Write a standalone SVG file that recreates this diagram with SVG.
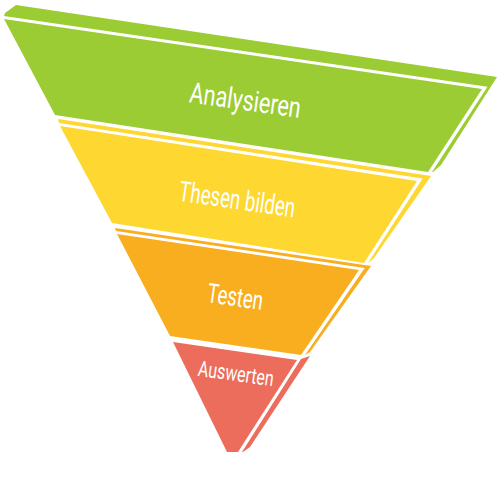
<svg xmlns="http://www.w3.org/2000/svg" width="500" height="500" viewBox="0 0 500 500">
<style>
.lbl{fill:#ffffff;font-family:Roboto,"DejaVu Sans Condensed",sans-serif;font-weight:400;text-anchor:middle}
.g{fill:#9BCC34}
.y{fill:#FED731}
.o{fill:#F9AE1F}
.r{fill:#EC6D5B}
</style>
<rect width="500" height="500" fill="#ffffff"/>
<g id="analysieren">
<polygon class="g" points="5,13 16,5 497,77 441,165 433,172 432,172 487.5,86.8 4,16"/>
<polygon class="g" points="4,19 482,89 428,172 55,115"/>
<text class="lbl" x="244" y="110" font-size="29" textLength="112" lengthAdjust="spacingAndGlyphs" transform="rotate(8 244 110)">Analysieren</text>
</g>
<g id="thesen-bilden">
<polygon class="y" points="58,119 431,176 374,258 368,263 422.6,178.6 59,123"/>
<polygon class="y" points="60,126 417,181 364,263 112,223"/>
<text class="lbl" x="236" y="209" font-size="28" textLength="117" lengthAdjust="spacingAndGlyphs" transform="rotate(8.3 236 209)">Thesen bilden</text>
</g>
<g id="testen">
<polygon class="o" points="115,228 371,266 310,352 305,355 364.7,267.9 116,231"/>
<polygon class="o" points="117,234 359,270 301,355 170,336"/>
<text class="lbl" x="234" y="306" font-size="27" textLength="56" lengthAdjust="spacingAndGlyphs" transform="rotate(8.3 234 306)">Testen</text>
</g>
<g id="auswerten">
<polygon class="r" points="301,359 310,356 250,447 243,452 242,452"/>
<polygon class="r" points="173,342 297,360 238,452 227,452"/>
<text class="lbl" x="235" y="381" font-size="22" textLength="76" lengthAdjust="spacingAndGlyphs" transform="rotate(8 235 381)">Auswerten</text>
</g>
</svg>
